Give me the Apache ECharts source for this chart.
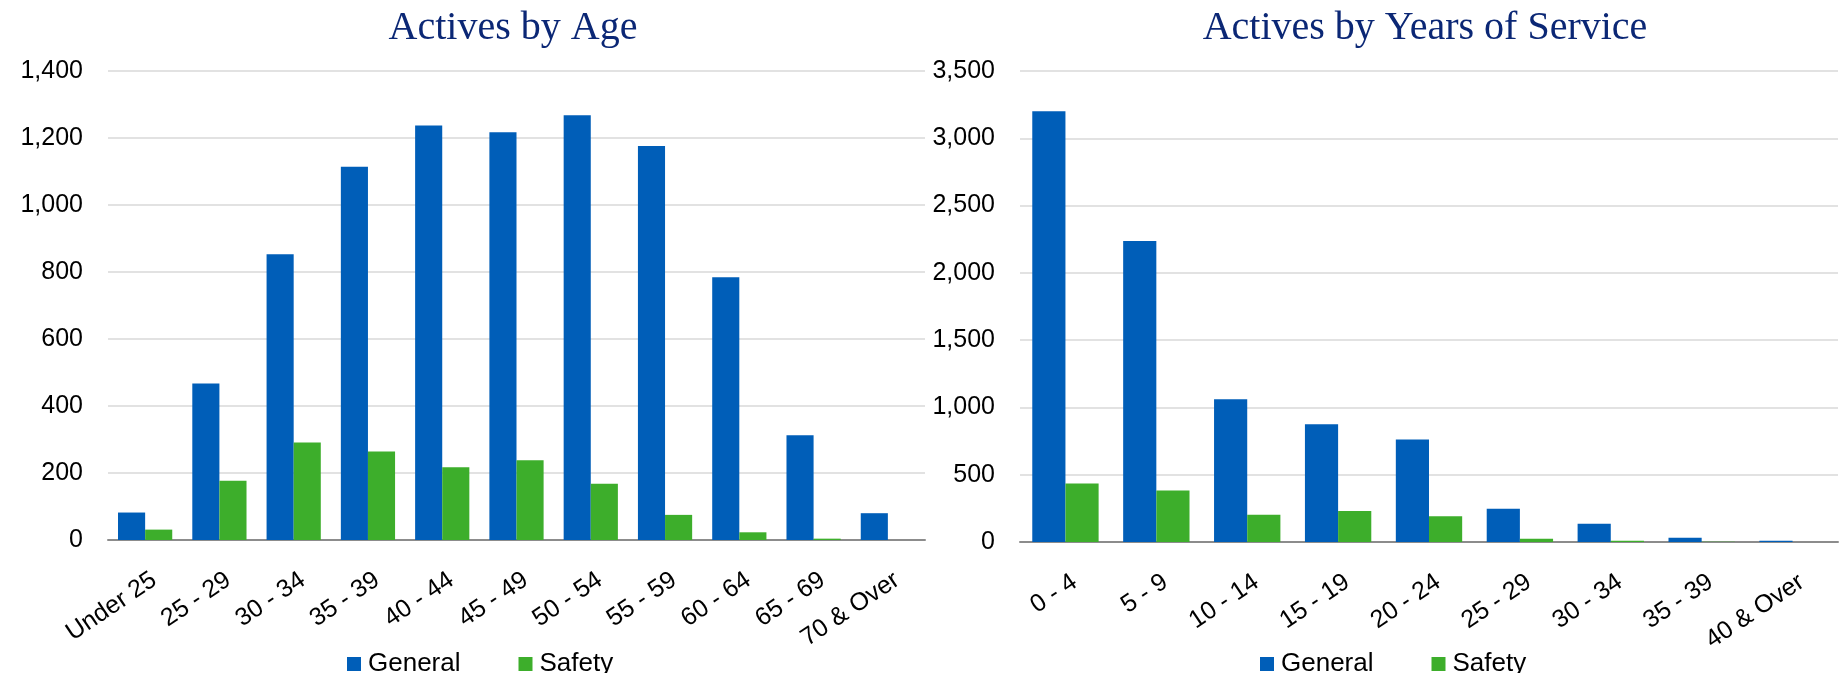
<!DOCTYPE html>
<html>
<head>
<meta charset="utf-8">
<script src="https://cdn.jsdelivr.net/npm/echarts@6/dist/echarts.min.js"></script>
<style>
html,body{margin:0;padding:0;background:#fff;}
#c{width:1841px;height:673px;}
</style>
</head>
<body>
<div id="c"></div>
<script>
// ---- Data ----
const ageCategories = ['Under 25','25 - 29','30 - 34','35 - 39','40 - 44','45 - 49','50 - 54','55 - 59','60 - 64','65 - 69','70 & Over'];
const ageGeneral = [82, 467, 853, 1114, 1237, 1217, 1268, 1176, 784, 313, 80];
const ageSafety  = [31, 177, 291, 264, 217, 238, 168, 75, 23, 4, 0];

const serviceCategories = ['0 - 4','5 - 9','10 - 14','15 - 19','20 - 24','25 - 29','30 - 34','35 - 39','40 & Over'];
const serviceGeneral = [3200, 2237, 1061, 875, 761, 248, 136, 32, 10];
const serviceSafety  = [434, 382, 203, 231, 191, 25, 10, 2, 0];

const titles = ['Actives by Age', 'Actives by Years of Service'];
const seriesNames = ['General', 'Safety'];

// ---- Styles ----
const BLUE = '#005EB8';
const GREEN = '#3DAE2B';
const TITLE_COLOR = '#0B2775';
const SANS = '"Liberation Sans", Arial, sans-serif';
const SERIF = '"Liberation Serif", "Times New Roman", serif';

const fmt = v => v.toLocaleString('en-US');

function xAxis(gridIndex, data) {
  return {
    type: 'category', gridIndex, data,
    axisLine: {show: true, lineStyle: {color: '#8c8c8c', width: 2}},
    axisTick: {show: false},
    axisLabel: {rotate: 34, margin: 44, padding: [0, -11, 0, 0], color: '#000',
                fontFamily: SANS, fontSize: 25, interval: 0}
  };
}
function yAxis(gridIndex, max, interval) {
  return {
    type: 'value', gridIndex, min: 0, max, interval,
    axisLine: {show: false}, axisTick: {show: false},
    axisLabel: {margin: 25, color: '#000', fontFamily: SANS, fontSize: 25, formatter: fmt},
    splitLine: {lineStyle: {color: '#d9d9d9', width: 1.5}}
  };
}
function bar(name, data, idx, color) {
  return {
    name, type: 'bar', data, xAxisIndex: idx, yAxisIndex: idx,
    barGap: '0%', barCategoryGap: '27%',
    itemStyle: {color}, animation: false
  };
}

const chart = echarts.init(document.getElementById('c'), null, {renderer: 'canvas'});
chart.setOption({
  animation: false,
  title: [
    {text: titles[0], left: 508, top: 3, textAlign: 'center',
     textStyle: {fontFamily: SERIF, fontSize: 40, fontWeight: 'normal', color: TITLE_COLOR}},
    {text: titles[1], left: 1420, top: 3, textAlign: 'center',
     textStyle: {fontFamily: SERIF, fontSize: 40, fontWeight: 'normal', color: TITLE_COLOR}}
  ],
  legend: [
    {data: seriesNames, left: 342, top: 646, itemWidth: 14, itemHeight: 14, itemGap: 58,
     icon: 'rect', textStyle: {fontFamily: SANS, fontSize: 26, color: '#000', padding: [0,0,0,2]}},
    {data: seriesNames, left: 1255, top: 646, itemWidth: 14, itemHeight: 14, itemGap: 58,
     icon: 'rect', textStyle: {fontFamily: SANS, fontSize: 26, color: '#000', padding: [0,0,0,2]}}
  ],
  grid: [
    {left: 108, right: 916, top: 71, bottom: 133},
    {left: 1020, right: 3, top: 71, bottom: 131}
  ],
  xAxis: [xAxis(0, ageCategories), xAxis(1, serviceCategories)],
  yAxis: [yAxis(0, 1400, 200), yAxis(1, 3500, 500)],
  series: [
    bar(seriesNames[0], ageGeneral, 0, BLUE),
    bar(seriesNames[1], ageSafety, 0, GREEN),
    bar(seriesNames[0], serviceGeneral, 1, BLUE),
    bar(seriesNames[1], serviceSafety, 1, GREEN)
  ]
});
</script>
</body>
</html>
